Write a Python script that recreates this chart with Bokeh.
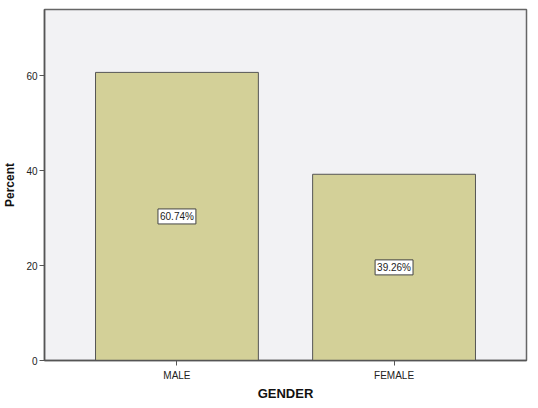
from bokeh.plotting import figure
from bokeh.models import ColumnDataSource, FixedTicker, Range1d, FactorRange
from bokeh.core.properties import value
from bokeh.embed import file_html
from bokeh.resources import INLINE

categories = ["MALE", "FEMALE"]
percents = [60.74, 39.26]
labels = ["60.74%", "39.26%"]
y_ticks = [0, 20, 40, 60]

src = ColumnDataSource(dict(
    cat=categories,
    val=percents,
    mid=[v / 2 for v in percents],
    lab=labels,
))

p = figure(
    x_range=FactorRange(*categories, range_padding=0.11),
    y_range=Range1d(0, 74),
    frame_width=482, frame_height=351,
    output_backend="svg", toolbar_location=None,
    min_border_left=37, min_border_right=3, min_border_top=9, min_border_bottom=30,
)

p.vbar(x="cat", top="val", width=0.75, source=src,
       fill_color="#d3d098", line_color="#555555", line_width=1)

p.text(x="cat", y="mid", text="lab", source=src,
       text_align="center", text_baseline="middle",
       text_font=value("Liberation Sans"), text_font_size=value("10px"),
       text_color="#222222",
       background_fill_color="white",
       border_line_color="#444444", border_line_width=1,
       padding=2)

p.background_fill_color = "#f2f2f4"
p.border_fill_color = "white"
p.outline_line_color = "#666666"
p.outline_line_width = 1.5
p.grid.visible = False

p.yaxis.ticker = FixedTicker(ticks=y_ticks)
for ax in (p.xaxis[0], p.yaxis[0]):
    ax.axis_line_color = "#555555"
    ax.axis_line_width = 1.5
    ax.major_tick_line_color = "#555555"
    ax.major_tick_out = 5
    ax.major_tick_in = 0
    ax.minor_tick_line_color = None
    ax.major_label_text_font = "Liberation Sans"
    ax.major_label_text_font_size = "10px"
    ax.major_label_text_color = "#222222"
    ax.axis_label_text_font = "Liberation Sans"
    ax.axis_label_text_font_style = "bold"
    ax.axis_label_text_color = "#111111"

p.yaxis.axis_label = "Percent"
p.yaxis.axis_label_text_font_size = "12px"
p.yaxis.major_label_standoff = 2
p.yaxis.axis_label_standoff = 6

p.xaxis.axis_label = "GENDER"
p.xaxis.axis_label_text_font_size = "13px"
p.xaxis.major_label_standoff = 4
p.xaxis.axis_label_standoff = 2

open("out.html", "w").write(file_html(p, INLINE))
